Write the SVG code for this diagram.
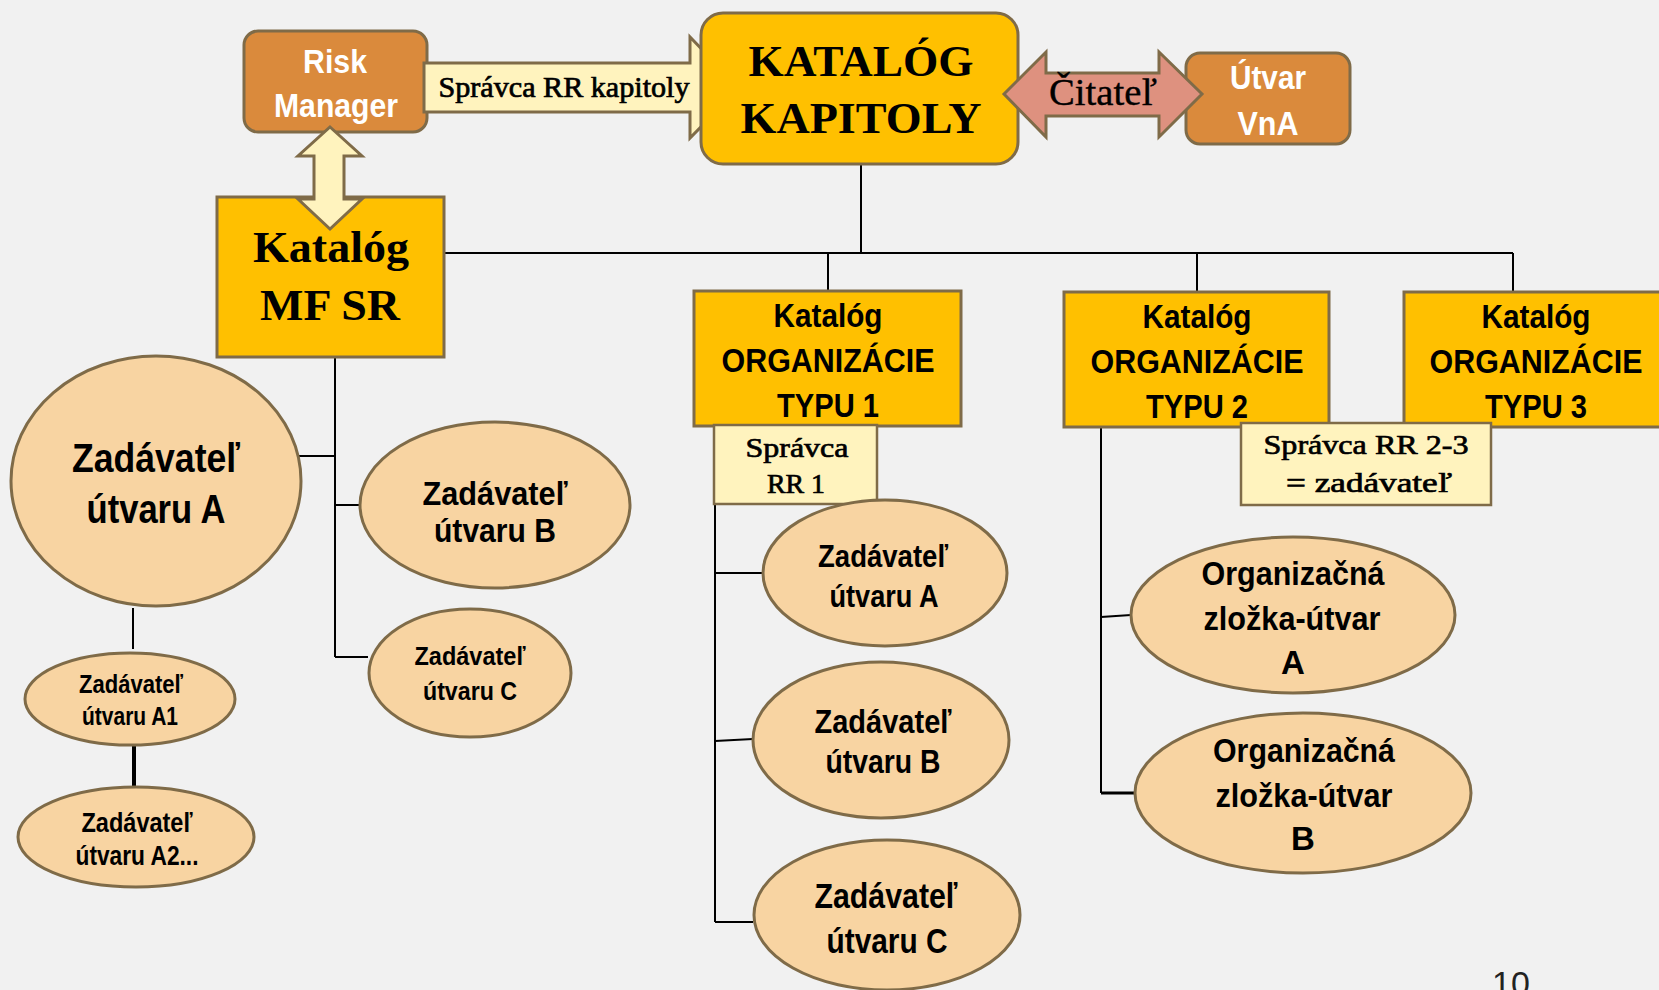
<svg xmlns="http://www.w3.org/2000/svg" width="1659" height="990" viewBox="0 0 1659 990">
<style>
.bg{fill:#F1F1F1}
.gold{fill:#FFC000;stroke:#7F6B48;stroke-width:3}
.orange{fill:#DA8A3C;stroke:#7F6B48;stroke-width:3}
.pale{fill:#FFF3BE;stroke:#7F6B48;stroke-width:3}
.salmon{fill:#DE917F;stroke:#7F6B48;stroke-width:3}
.ell{fill:#F8D4A2;stroke:#7F6B48;stroke-width:3}
.ln{stroke:#000;stroke-width:2;fill:none}
.sans{font-family:"Liberation Sans",Arial,sans-serif;font-weight:bold;fill:#000;text-anchor:middle}
.wsans{font-family:"Liberation Sans",Arial,sans-serif;font-weight:bold;fill:#fff;text-anchor:middle}
.serif{font-family:"Liberation Serif","Times New Roman",serif;fill:#000;text-anchor:middle}
.semi{stroke:#000;stroke-width:0.7}
.serifb{font-family:"Liberation Serif","Times New Roman",serif;font-weight:bold;fill:#000;text-anchor:middle}
</style>
<rect class="bg" x="0" y="0" width="1659" height="990"/>

<g id="connectors">
<path class="ln" d="M861,164 V253 M444,253 H1513 M828,253 V291 M1197,253 V292 M1513,253 V292"/>
<path class="ln" d="M335,357 V657 M299,456 H335 M335,505 H360 M335,657 H368"/>
<path class="ln" d="M133,608 V649"/>
<path class="ln" d="M134,745 V790" style="stroke-width:4"/>
<path class="ln" d="M715,426 V922 M715,573 H763 M715,741 L753,739 M715,922 H753"/>
<path class="ln" d="M1101,427 V793 M1101,617 L1131,615"/>
<path class="ln" d="M1101,793 H1135" style="stroke-width:3"/>
</g>

<g id="risk-manager">
<rect class="orange" x="244" y="31" width="183" height="101" rx="14"/>
<text class="wsans" x="335" y="73" font-size="34" textLength="64" lengthAdjust="spacingAndGlyphs">Risk</text>
<text class="wsans" x="336" y="117" font-size="34" textLength="124" lengthAdjust="spacingAndGlyphs">Manager</text>
</g>

<g id="arrow-spravca-rr-kapitoly">
<polygon class="pale" points="424,63 690,63 690,37 739,88 690,138 690,112 424,112"/>
<text class="serif semi" x="564" y="97" font-size="29" textLength="251" lengthAdjust="spacingAndGlyphs">Správca RR kapitoly</text>
</g>

<g id="katalog-kapitoly">
<rect class="gold" x="701" y="13" width="317" height="151" rx="22"/>
<text class="serifb" x="861" y="76" font-size="45" textLength="225" lengthAdjust="spacingAndGlyphs">KATALÓG</text>
<text class="serifb" x="861" y="133" font-size="45" textLength="241" lengthAdjust="spacingAndGlyphs">KAPITOLY</text>
</g>

<g id="utvar-vna">
<rect class="orange" x="1186" y="53" width="164" height="91" rx="14"/>
<text class="wsans" x="1268" y="89" font-size="34" textLength="76" lengthAdjust="spacingAndGlyphs">Útvar</text>
<text class="wsans" x="1268" y="135" font-size="34" textLength="61" lengthAdjust="spacingAndGlyphs">VnA</text>
</g>

<g id="arrow-citatel">
<polygon class="salmon" points="1004,94 1046,52 1046,73 1159,73 1159,52 1202,94 1159,137 1159,116 1046,116 1046,137"/>
<text class="serif semi" x="1103" y="105" font-size="38" textLength="108" lengthAdjust="spacingAndGlyphs" style="stroke-width:0.4">Čitateľ</text>
</g>

<g id="katalog-mf-sr">
<rect class="gold" x="217" y="197" width="227" height="160"/>
<text class="serifb" x="331" y="262" font-size="44" textLength="156" lengthAdjust="spacingAndGlyphs">Katalóg</text>
<text class="serifb" x="330" y="320" font-size="44" textLength="140" lengthAdjust="spacingAndGlyphs">MF SR</text>
</g>

<g id="arrow-rm-mfsr">
<polygon class="pale" points="330,127 362,156 344,156 344,199 362,199 330,229 298,199 314,199 314,156 298,156"/>
</g>

<g id="typu1">
<rect class="gold" x="694" y="291" width="267" height="135"/>
<text class="sans" x="828" y="327" font-size="34" textLength="109" lengthAdjust="spacingAndGlyphs">Katalóg</text>
<text class="sans" x="828" y="372" font-size="34" textLength="213" lengthAdjust="spacingAndGlyphs">ORGANIZÁCIE</text>
<text class="sans" x="828" y="417" font-size="34" textLength="102" lengthAdjust="spacingAndGlyphs">TYPU 1</text>
</g>

<g id="typu2">
<rect class="gold" x="1064" y="292" width="265" height="135"/>
<text class="sans" x="1197" y="328" font-size="34" textLength="109" lengthAdjust="spacingAndGlyphs">Katalóg</text>
<text class="sans" x="1197" y="373" font-size="34" textLength="213" lengthAdjust="spacingAndGlyphs">ORGANIZÁCIE</text>
<text class="sans" x="1197" y="418" font-size="34" textLength="102" lengthAdjust="spacingAndGlyphs">TYPU 2</text>
</g>

<g id="typu3">
<rect class="gold" x="1404" y="292" width="265" height="135"/>
<text class="sans" x="1536" y="328" font-size="34" textLength="109" lengthAdjust="spacingAndGlyphs">Katalóg</text>
<text class="sans" x="1536" y="373" font-size="34" textLength="213" lengthAdjust="spacingAndGlyphs">ORGANIZÁCIE</text>
<text class="sans" x="1536" y="418" font-size="34" textLength="102" lengthAdjust="spacingAndGlyphs">TYPU 3</text>
</g>

<g id="spravca-rr1">
<rect class="pale" x="714" y="425" width="163" height="79" style="stroke-width:2.5"/>
<text class="serif semi" x="797" y="457" font-size="28" textLength="103" lengthAdjust="spacingAndGlyphs">Správca</text>
<text class="serif semi" x="796" y="493" font-size="28" textLength="58" lengthAdjust="spacingAndGlyphs">RR 1</text>
</g>

<g id="spravca-rr23">
<rect class="pale" x="1241" y="423" width="250" height="82" style="stroke-width:2.5"/>
<text class="serif semi" x="1366" y="454" font-size="28" textLength="205" lengthAdjust="spacingAndGlyphs">Správca RR 2-3</text>
<text class="serif semi" x="1369" y="492" font-size="28" textLength="166" lengthAdjust="spacingAndGlyphs">= zadávateľ</text>
</g>

<g id="mf-zadavatel-a">
<ellipse class="ell" cx="156" cy="481" rx="145" ry="125"/>
<text class="sans" x="156" y="472" font-size="41" textLength="168" lengthAdjust="spacingAndGlyphs">Zadávateľ</text>
<text class="sans" x="156" y="523" font-size="41" textLength="139" lengthAdjust="spacingAndGlyphs">útvaru A</text>
</g>

<g id="mf-zadavatel-b">
<ellipse class="ell" cx="495" cy="505" rx="135" ry="83"/>
<text class="sans" x="495" y="505" font-size="33" textLength="145" lengthAdjust="spacingAndGlyphs">Zadávateľ</text>
<text class="sans" x="495" y="542" font-size="33" textLength="122" lengthAdjust="spacingAndGlyphs">útvaru B</text>
</g>

<g id="mf-zadavatel-c">
<ellipse class="ell" cx="470" cy="673" rx="101" ry="64"/>
<text class="sans" x="470" y="665" font-size="26" textLength="111" lengthAdjust="spacingAndGlyphs">Zadávateľ</text>
<text class="sans" x="470" y="700" font-size="26" textLength="94" lengthAdjust="spacingAndGlyphs">útvaru C</text>
</g>

<g id="mf-zadavatel-a1">
<ellipse class="ell" cx="130" cy="699" rx="105" ry="46"/>
<text class="sans" x="131" y="693" font-size="25" textLength="104" lengthAdjust="spacingAndGlyphs">Zadávateľ</text>
<text class="sans" x="130" y="725" font-size="25" textLength="96" lengthAdjust="spacingAndGlyphs">útvaru A1</text>
</g>

<g id="mf-zadavatel-a2">
<ellipse class="ell" cx="136" cy="837" rx="118" ry="50"/>
<text class="sans" x="137" y="832" font-size="27" textLength="111" lengthAdjust="spacingAndGlyphs">Zadávateľ</text>
<text class="sans" x="137" y="865" font-size="27" textLength="123" lengthAdjust="spacingAndGlyphs">útvaru A2...</text>
</g>

<g id="t1-zadavatel-a">
<ellipse class="ell" cx="885" cy="573" rx="122" ry="73"/>
<text class="sans" x="883" y="567" font-size="32" textLength="130" lengthAdjust="spacingAndGlyphs">Zadávateľ</text>
<text class="sans" x="884" y="607" font-size="32" textLength="109" lengthAdjust="spacingAndGlyphs">útvaru A</text>
</g>

<g id="t1-zadavatel-b">
<ellipse class="ell" cx="881" cy="740" rx="128" ry="78"/>
<text class="sans" x="883" y="733" font-size="33" textLength="137" lengthAdjust="spacingAndGlyphs">Zadávateľ</text>
<text class="sans" x="883" y="773" font-size="33" textLength="115" lengthAdjust="spacingAndGlyphs">útvaru B</text>
</g>

<g id="t1-zadavatel-c">
<ellipse class="ell" cx="887" cy="915" rx="133" ry="75"/>
<text class="sans" x="886" y="908" font-size="35" textLength="143" lengthAdjust="spacingAndGlyphs">Zadávateľ</text>
<text class="sans" x="887" y="953" font-size="35" textLength="121" lengthAdjust="spacingAndGlyphs">útvaru C</text>
</g>

<g id="t2-org-a">
<ellipse class="ell" cx="1293" cy="615" rx="162" ry="78"/>
<text class="sans" x="1293" y="585" font-size="33" textLength="183" lengthAdjust="spacingAndGlyphs">Organizačná</text>
<text class="sans" x="1292" y="630" font-size="33" textLength="177" lengthAdjust="spacingAndGlyphs">zložka-útvar</text>
<text class="sans" x="1293" y="674" font-size="33">A</text>
</g>

<g id="t2-org-b">
<ellipse class="ell" cx="1303" cy="793" rx="168" ry="80"/>
<text class="sans" x="1304" y="762" font-size="33" textLength="182" lengthAdjust="spacingAndGlyphs">Organizačná</text>
<text class="sans" x="1304" y="807" font-size="33" textLength="177" lengthAdjust="spacingAndGlyphs">zložka-útvar</text>
<text class="sans" x="1303" y="850" font-size="33">B</text>
</g>

<text x="1511" y="995" font-family="Liberation Sans, Arial, sans-serif" font-size="34" fill="#222" text-anchor="middle">10</text>
</svg>
